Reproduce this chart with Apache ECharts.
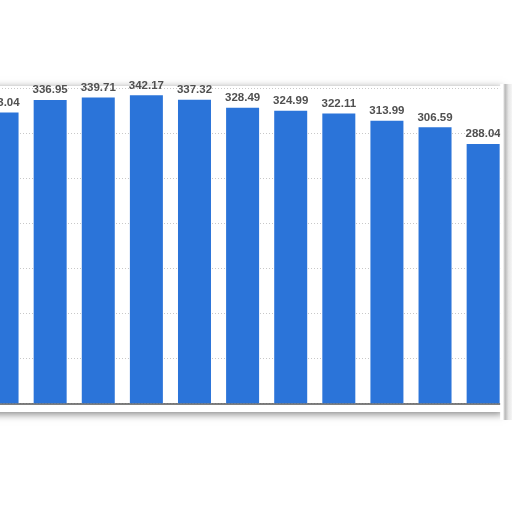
<!DOCTYPE html>
<html>
<head>
<meta charset="utf-8">
<script src="https://cdn.jsdelivr.net/npm/echarts@6/dist/echarts.min.js"></script>
<style>
html,body{margin:0;padding:0;background:#fff;overflow:hidden;}
#wrap{position:relative;width:512px;height:512px;overflow:hidden;}
#c{position:absolute;left:-21.65px;top:0;width:534px;height:512px;}
</style>
</head>
<body>
<div id="wrap"><div id="c"></div></div>
<script>
var categories = ['2010','2011','2012','2013','2014','2015','2016','2017','2018','2019','2020'];
var values = [323.04, 336.95, 339.71, 342.17, 337.32, 328.49, 324.99, 322.11, 313.99, 306.59, 288.04];
var yTicks = {min: 0, max: 350, interval: 50};

var OX = 21.65; // container offset
var chart = echarts.init(document.getElementById('c'), null, {renderer: 'canvas'});
chart.setOption({
  animation: false,
  backgroundColor: '#fff',
  grid: {left: 0, right: 4.8, top: 88.3, bottom: 108.7, containLabel: false},
  xAxis: {
    type: 'category',
    data: categories,
    axisLine: {show: true, lineStyle: {color: '#555', width: 1.5}},
    axisTick: {show: false},
    axisLabel: {show: false}
  },
  yAxis: {
    type: 'value',
    min: yTicks.min, max: yTicks.max, interval: yTicks.interval,
    axisLine: {show: false},
    axisTick: {show: false},
    axisLabel: {show: false},
    splitLine: {show: true, lineStyle: {color: '#c8c8c8', type: [1, 2], width: 1}}
  },
  series: [{
    type: 'bar',
    data: values,
    barWidth: 33,
    itemStyle: {color: '#2b74d9'},
    label: {
      show: true,
      position: 'top',
      distance: 4,
      color: '#505050',
      fontFamily: 'Liberation Sans, Arial, sans-serif',
      fontWeight: 'bold',
      fontSize: 11.5,
      formatter: function (p) { return p.value.toFixed(2); }
    }
  }],
  graphic: [
    {
      type: 'rect', z: -10, silent: true,
      shape: {x: OX - 30, y: 86, width: 533, height: 326},
      style: {fill: '#fff', shadowBlur: 8, shadowColor: 'rgba(0,0,0,0.5)', shadowOffsetY: 2}
    },
    {
      type: 'rect', z: 100, silent: true,
      shape: {x: OX + 500.5, y: 84, width: 14, height: 336},
      style: {
        fill: new echarts.graphic.LinearGradient(0, 0, 1, 0, [
          {offset: 0, color: '#ffffff'},
          {offset: 0.2, color: '#ffffff'},
          {offset: 0.35, color: '#b8b8b8'},
          {offset: 0.6, color: '#e6e6e6'},
          {offset: 1, color: '#ffffff'}
        ])
      }
    }
  ]
});
</script>
</body>
</html>
